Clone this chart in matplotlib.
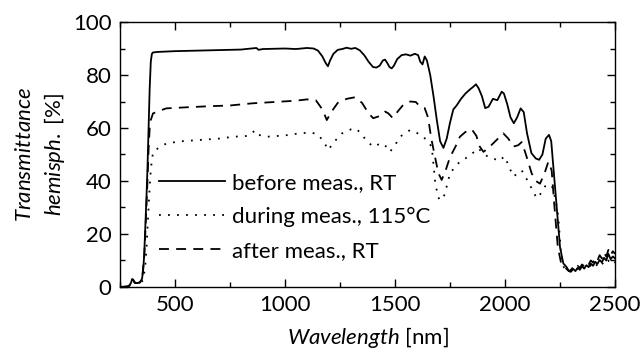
import matplotlib
matplotlib.use("Agg")
import matplotlib.pyplot as plt
from matplotlib.ticker import MultipleLocator

# before meas., RT (solid)
wl_before = [250, 270, 290, 300, 305, 310, 315, 320, 330, 340, 350, 355, 360, 365, 370, 375, 380, 385, 390, 395,
             400, 420, 450, 500, 600, 700, 800, 870, 880, 900, 950, 1000, 1050, 1100, 1130, 1150, 1170, 1185, 1195,
             1205, 1220, 1240, 1260, 1280, 1300, 1320, 1340, 1360, 1380, 1400, 1415, 1430, 1445, 1455, 1465, 1475,
             1485, 1495, 1510, 1530, 1550, 1570, 1590, 1605, 1615, 1625, 1635, 1645, 1660, 1675, 1690, 1705, 1720,
             1735, 1750, 1765, 1780, 1800, 1820, 1840, 1855, 1868, 1880, 1895, 1910, 1925, 1945, 1965, 1985, 1995,
             2010, 2025, 2040, 2055, 2071, 2085, 2100, 2120, 2140, 2155, 2170, 2185, 2200, 2210, 2220, 2235, 2250,
             2265, 2280, 2290, 2300, 2310, 2320, 2330, 2340, 2350, 2360, 2370, 2380, 2390, 2400, 2410, 2420, 2430,
             2440, 2450, 2460, 2470, 2480, 2490, 2500]
t_before = [0, 0, 0.3, 1.5, 3, 2.8, 2, 1.5, 1.5, 1.8, 3, 6, 12, 22, 33, 45, 60, 75, 85, 88,
            88.5, 88.7, 88.8, 89, 89.2, 89.4, 89.6, 90.2, 89.5, 89.8, 89.9, 90, 89.8, 90.2, 90, 89.2, 87, 84.5, 83.3,
            85.5, 88, 89.5, 89.8, 90.3, 89.9, 90.2, 89.3, 87.5, 85, 83, 82.8, 83.5, 85.5, 85.8, 84.5, 83,
            82.5, 83.5, 86, 87.5, 87.8, 87.3, 88, 87.5, 85, 84, 87, 85.5, 80, 72, 63, 55, 52.5,
            56, 62, 67, 68.5, 71, 73, 74.5, 75.5, 76.5, 75, 72, 67.5, 68, 71, 70.5, 73.7, 73,
            69, 64, 61.8, 64, 67.4, 66, 58, 50.5, 48.5, 48, 50, 56, 57.4, 55, 45, 30, 15,
            8.9, 7.5, 6, 5.8, 6.8, 6, 7.2, 6.5, 7.8, 7, 8.2, 7.5, 8.8, 8, 9.5, 8.7, 10.2,
            9.3, 11, 10, 12.5, 10.5, 11.5, 10.8]

# during meas., 115 °C (dotted)
wl_during = [250, 290, 300, 305, 310, 320, 340, 355, 365, 370, 375, 380, 385, 390, 395, 401, 430, 462, 530, 614,
             700, 765, 830, 855, 864, 875, 917, 1000, 1068, 1120, 1150, 1175, 1197, 1220, 1260, 1300, 1318, 1340,
             1356, 1380, 1401, 1430, 1450, 1477, 1500, 1523, 1545, 1568, 1590, 1615, 1644, 1667, 1682, 1695, 1705,
             1720, 1735, 1750, 1775, 1795, 1820, 1841, 1860, 1879, 1900, 1925, 1947, 1970, 1999, 2020, 2038, 2060,
             2076, 2100, 2121, 2144, 2165, 2182, 2212, 2230, 2242, 2258, 2270,
             2280, 2290, 2300, 2310, 2320, 2330, 2340, 2350, 2360, 2370, 2380, 2390, 2400, 2410, 2420, 2430,
             2440, 2450, 2460, 2470, 2480, 2490, 2500]
t_during = [0, 0.3, 1.2, 2.5, 2.3, 1.3, 1.4, 2.5, 8, 14, 22, 30, 38, 44, 48, 51, 52.8, 54.2, 55, 55.5,
            56, 56.7, 57, 58.5, 59, 57.5, 56.7, 57.2, 58, 58.3, 57.5, 55, 51.7, 54.5, 58, 59.5, 59.9, 58.5,
            56.7, 54.5, 52.9, 54, 54, 51, 53.5, 56.7, 58, 59.2, 58.5, 57.5, 55.5, 52.9, 40, 34, 32.8,
            33.5, 38, 42.9, 45.5, 47.3, 48.5, 49.8, 51, 52.3, 50.5, 49, 48.6, 47.5, 49.3, 45, 41.7, 43,
            44, 40.5, 37.2, 33.5, 35.5, 38, 38.5, 33, 26.5, 9, 7,
            6.2, 5.5, 6, 6.8, 6.2, 7, 6.5, 7.5, 7, 7.8, 7.2, 8.2, 7.6, 8.8, 8, 9.2,
            8.5, 9.5, 8.8, 10, 9, 9.8, 9.2]

# after meas., RT (dashed)
wl_after = [250, 290, 300, 305, 310, 320, 340, 350, 360, 365, 370, 375, 380, 385, 390, 400, 430, 460, 550, 650,
            750, 850, 950, 1050, 1100, 1140, 1170, 1190, 1210, 1240, 1280, 1318, 1350, 1380, 1401, 1430, 1455,
            1470, 1489, 1510, 1540, 1570, 1595, 1614, 1635, 1650, 1665, 1682, 1697, 1712, 1730, 1750, 1775, 1795,
            1820, 1849, 1870, 1885, 1902, 1925, 1962, 1992, 2015, 2038, 2060, 2076, 2095, 2121, 2140, 2159, 2180,
            2197, 2212, 2225, 2240, 2255, 2270,
            2280, 2290, 2300, 2310, 2320, 2330, 2340, 2350, 2360, 2370, 2380, 2390, 2400, 2410, 2420, 2430,
            2440, 2450, 2460, 2470, 2480, 2490, 2500]
t_after = [0, 0.3, 1.5, 2.8, 2.5, 1.5, 1.6, 2.8, 11, 20, 30, 40, 52, 60, 63, 65.5, 66.5, 67.4, 67.8, 68.2,
           68.5, 69.3, 69.8, 70.3, 70.8, 70.5, 67, 63, 66, 69.5, 71, 71.6, 69.5, 65.5, 63.7, 64.5, 66.2,
           65.5, 63.8, 66, 69, 70, 69.8, 68, 67.5, 64, 56, 49, 43, 40.4, 44, 49, 53, 56.7,
           58.5, 59.5, 57, 53, 51, 52.5, 55.5, 58, 56, 53, 53.5, 54.7, 50, 42.9, 40, 39, 43,
           47.3, 44, 30, 15, 9, 7.5,
           6.8, 6, 6.5, 7.5, 6.8, 8, 7.2, 8.5, 7.8, 9.2, 8.5, 10, 9.2, 11, 10, 12,
           10.8, 13, 11.5, 14, 12, 13.5, 12.5]

labels = ["before meas., RT", "during meas., 115°C", "after meas., RT"]

plt.rcParams["font.family"] = ["Lato", "DejaVu Sans"]
plt.rcParams["font.size"] = 16
plt.rcParams["mathtext.fontset"] = "custom"
plt.rcParams["mathtext.it"] = "Lato:italic"
plt.rcParams["mathtext.rm"] = "Lato"

fig = plt.figure(figsize=(6.43, 3.59), dpi=100)
ax = fig.add_axes([0.1866, 0.2006, 0.9565 - 0.1866, 0.9387 - 0.2006])

ax.plot(wl_before, t_before, color="black", lw=1.3, label=labels[0])
ax.plot(wl_during, t_during, color="black", lw=1.3, dashes=(1, 4), label=labels[1])
ax.plot(wl_after, t_after, color="black", lw=1.3, dashes=(5.5, 4), label=labels[2])

ax.set_xlim(250, 2500)
ax.set_ylim(0, 100)
ax.xaxis.set_major_locator(MultipleLocator(500))
ax.xaxis.set_minor_locator(MultipleLocator(250))
ax.yaxis.set_major_locator(MultipleLocator(20))
ax.yaxis.set_minor_locator(MultipleLocator(10))
ax.tick_params(which="both", direction="in", top=True, right=True, width=1)
ax.tick_params(which="major", length=6, pad=6)
ax.tick_params(which="minor", length=3.5)
for s in ax.spines.values():
    s.set_linewidth(1)

ax.set_xlabel(r"$\mathit{Wavelength}$ [nm]", labelpad=7)
ax.set_ylabel("$\\mathit{Transmittance}$\n$\\mathit{hemisph.}$ [%]", labelpad=4, linespacing=1.4)

ax.legend(loc="center left", bbox_to_anchor=(0.078, 0.264), frameon=False,
          handlelength=3, handletextpad=0.3, labelspacing=0.62, borderpad=0, borderaxespad=0)

fig.savefig("out.png", dpi=100)
